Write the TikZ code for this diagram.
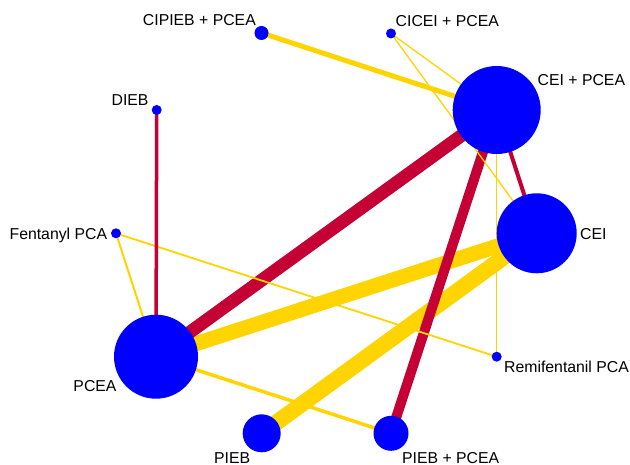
\documentclass[tikz,border=0pt]{standalone}
\usepackage{fontspec}
\setmainfont{Liberation Sans}
\usetikzlibrary{backgrounds}
\definecolor{edgeyellow}{RGB}{255,212,0}
\definecolor{edgered}{RGB}{196,0,52}
\definecolor{nodeblue}{RGB}{0,0,255}
\begin{document}
\begin{tikzpicture}[x=1pt,y=-1pt,
  trt/.style={circle,fill=nodeblue,draw=none,inner sep=0pt,minimum size=#1},
  lab/.style={font=\fontsize{15.8}{18}\selectfont,text=black,inner sep=0pt},
  ye/.style={draw=edgeyellow,line width=#1},
  re/.style={draw=edgered,line width=#1}]
\useasboundingbox (0,0) rectangle (630,465);
% nodes
\node[trt=14pt] (cipieb) at (261.5,33) {};
\node[trt=10pt] (cicei) at (391,33.5) {};
\node[trt=88pt] (ceipcea) at (496.7,110) {};
\node[trt=10pt] (dieb) at (156.7,110) {};
\node[trt=80pt] (cei) at (536.7,233.3) {};
\node[trt=10pt] (fent) at (116,233.3) {};
\node[trt=84pt] (pcea) at (156,356.7) {};
\node[trt=10pt] (remi) at (496.7,356.7) {};
\node[trt=38pt] (pieb) at (261.7,433.3) {};
\node[trt=35pt] (piebpcea) at (391,433.3) {};
% labels
\node[lab,anchor=base east] (l1) at (256,25.3) {CIPIEB + PCEA};
\node[lab,anchor=base west] (l2) at (395.5,26.5) {CICEI + PCEA};
\node[lab,anchor=base west] (l3) at (537.5,86) {CEI + PCEA};
\node[lab,anchor=base east] (l4) at (148.7,106) {DIEB};
\node[lab,anchor=base west] (l5) at (580,239.3) {CEI};
\node[lab,anchor=base east] (l6) at (107.3,239.3) {Fentanyl PCA};
\node[lab,anchor=base east] (l7) at (116.7,391.7) {PCEA};
\node[lab,anchor=base west] (l8) at (504,372.7) {Remifentanil PCA};
\node[lab,anchor=base west] (l9) at (214,463) {PIEB};
\node[lab,anchor=base west] (l10) at (402,463) {PIEB + PCEA};
% edges
\begin{pgfonlayer}{background}
\draw[ye=15pt] (cei.center) -- (pcea.center);
\draw[ye=16pt] (cei.center) -- (pieb.center);
\draw[ye=5pt] (cipieb.center) -- (ceipcea.center);
\draw[ye=3.5pt] (pcea.center) -- (piebpcea.center);
\draw[re=13pt] (ceipcea.center) -- (pcea.center);
\draw[re=10pt] (ceipcea.center) -- (piebpcea.center);
\draw[re=4pt] (ceipcea.center) -- (cei.center);
\draw[ye=1.3pt] (cicei.center) -- (ceipcea.center);
\draw[ye=1.3pt] (cicei.center) -- (cei.center);
\draw[ye=1.5pt] (ceipcea.center) -- (remi.center);
\draw[ye=1.8pt] (fent.center) -- (remi.center);
\draw[ye=2pt] (fent.center) -- (pcea.center);
\draw[re=3.5pt] (dieb.center) -- (pcea.center);
\end{pgfonlayer}
\end{tikzpicture}
\end{document}
